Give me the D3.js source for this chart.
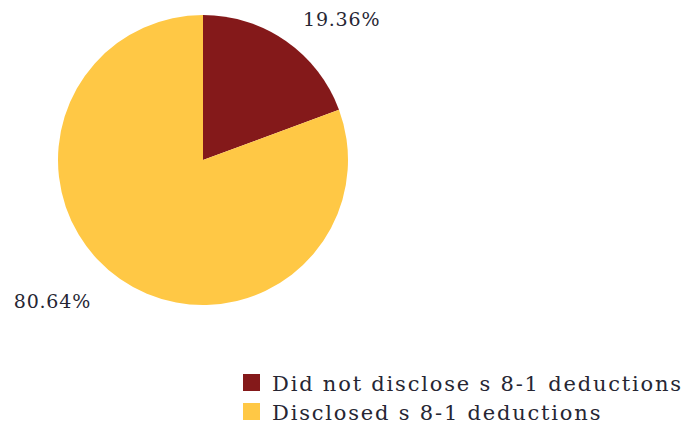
<!DOCTYPE html>
<html>
<head>
<meta charset="utf-8">
<script src="https://cdn.jsdelivr.net/npm/d3@7"></script>
<style>
  html, body { margin: 0; padding: 0; background: #fff; }
  svg { display: block; }
  text { font-family: "DejaVu Serif", "Liberation Serif", serif; fill: #262633; }
</style>
</head>
<body>
<svg id="chart" width="688" height="430"></svg>
<script>
// Share of entities by disclosure of s 8-1 deductions
const categories = ["Did not disclose s 8-1 deductions", "Disclosed s 8-1 deductions"];
const values = [19.36, 80.64];
const colors = ["#84191a", "#ffc845"];
const valueLabels = ["19.36%", "80.64%"];

const svg = d3.select("#chart");
const cx = 203, cy = 160, r = 145;

const color = d3.scaleOrdinal().domain(categories).range(colors);
const pie = d3.pie().sort(null).value(d => d.value);
const data = categories.map((c, i) => ({ name: c, value: values[i], label: valueLabels[i] }));
const arcs = pie(data);
const arc = d3.arc().innerRadius(0).outerRadius(r);

const g = svg.append("g").attr("transform", `translate(${cx},${cy})`);
g.selectAll("path").data(arcs).join("path")
  .attr("d", arc)
  .attr("fill", d => color(d.data.name));

// Value labels outside the rim: small slice top-right, large slice bottom-left
g.selectAll("text.val").data(arcs).join("text")
  .attr("class", "val")
  .attr("font-size", 19)
  .attr("letter-spacing", 0.8)
  .attr("text-anchor", (d, i) => i === 0 ? "start" : "end")
  .attr("x", (d, i) => i === 0 ? 100 : -112)
  .attr("y", (d, i) => i === 0 ? -134 : 148)
  .text(d => d.data.label);

// Legend
const legend = svg.append("g").attr("transform", "translate(243,374)");
const item = legend.selectAll("g").data(categories).join("g")
  .attr("transform", (d, i) => `translate(0,${i * 29})`);
item.append("rect").attr("width", 17).attr("height", 17).attr("fill", d => color(d));
item.append("text").attr("x", 29).attr("y", 17)
  .attr("font-size", 21)
  .attr("letter-spacing", 1.8)
  .text(d => d);
</script>
</body>
</html>
